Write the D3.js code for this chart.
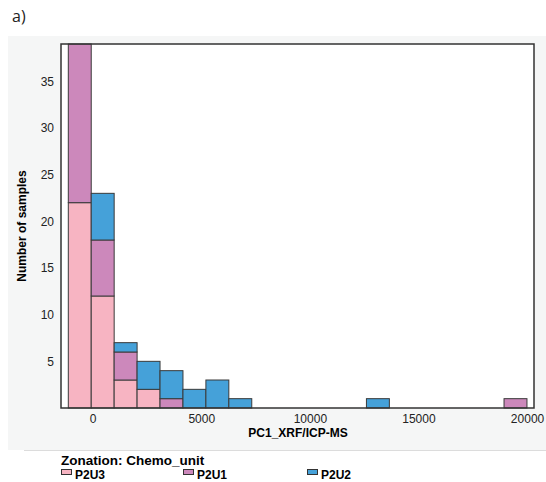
<!DOCTYPE html>
<html>
<head>
<meta charset="utf-8">
<script src="https://cdn.jsdelivr.net/npm/d3@7"></script>
<style>
  body { margin: 0; background: #fff; }
  svg { display: block; font-family: "Liberation Sans", Arial, sans-serif; }
</style>
</head>
<body>
<svg id="chart" width="546" height="482"></svg>
<script>
// histogram bins of PC1, stacked by chemo unit (bottom -> top)
var binStart = -1124;
var binWidth = 1056;
var units = ["P2U3", "P2U1", "P2U2"];
var unitColors = ["#f7b4c2", "#cc88bb", "#45a1d9"];
var countsP2U3 = [22, 12, 3, 2, 0, 0, 0, 0, 0, 0, 0, 0, 0, 0, 0, 0, 0, 0, 0, 0];
var countsP2U1 = [17, 6, 3, 0, 1, 0, 0, 0, 0, 0, 0, 0, 0, 0, 0, 0, 0, 0, 0, 1];
var countsP2U2 = [0, 5, 1, 3, 3, 2, 3, 1, 0, 0, 0, 0, 0, 1, 0, 0, 0, 0, 0, 0];
var xTicks = [0, 5000, 10000, 15000, 20000];
var yTicks = [5, 10, 15, 20, 25, 30, 35];

var svg = d3.select("#chart");
var plot = {left: 61, right: 534, top: 44, bottom: 408};

var x = d3.scaleLinear().domain([-1460, 20320]).range([plot.left, plot.right]);
var y = d3.scaleLinear().domain([0, 39]).range([plot.bottom, plot.top]);

// panel background
svg.append("rect")
	.attr("x", 8).attr("y", 36).attr("width", 538).attr("height", 414)
	.attr("fill", "#f5f6f6");
svg.append("line")
	.attr("x1", 24).attr("x2", 546).attr("y1", 450.5).attr("y2", 450.5)
	.attr("stroke", "#dcdcdc").attr("stroke-width", 1);

svg.append("text")
	.attr("x", 12).attr("y", 22)
	.style("font-family", "'Open Sans', sans-serif")
	.style("font-size", "16px")
	.attr("fill", "#222")
	.text("a)");

svg.append("rect")
	.attr("x", plot.left).attr("y", plot.top)
	.attr("width", plot.right - plot.left).attr("height", plot.bottom - plot.top)
	.attr("fill", "#fff");

// build stacked table
var rows = countsP2U3.map(function(d, i){
	return {i: i, P2U3: countsP2U3[i], P2U1: countsP2U1[i], P2U2: countsP2U2[i]};
});
var stack = d3.stack().keys(units)(rows);

var g = svg.append("g");
stack.forEach(function(layer, k){
	g.selectAll(null)
		.data(layer.filter(function(d){ return d[1] > d[0]; }))
		.enter().append("rect")
		.attr("x", function(d){ return x(binStart + d.data.i * binWidth); })
		.attr("width", function(d){ return x(binStart + (d.data.i + 1) * binWidth) - x(binStart + d.data.i * binWidth); })
		.attr("y", function(d){ return y(d[1]); })
		.attr("height", function(d){ return y(d[0]) - y(d[1]); })
		.attr("fill", unitColors[k])
		.attr("stroke", "#3a3a3a")
		.attr("stroke-width", 1);
});

// frame
svg.append("rect")
	.attr("x", plot.left).attr("y", plot.top)
	.attr("width", plot.right - plot.left).attr("height", plot.bottom - plot.top)
	.attr("fill", "none").attr("stroke", "#333").attr("stroke-width", 1.5);

// axes
var xAxis = svg.append("g")
	.attr("transform", "translate(0," + plot.bottom + ")")
	.call(d3.axisBottom(x).tickValues(xTicks).tickFormat(d3.format("d")).tickSize(0).tickPadding(6));
var yAxis = svg.append("g")
	.attr("transform", "translate(" + plot.left + ",0)")
	.call(d3.axisLeft(y).tickValues(yTicks).tickFormat(d3.format("d")).tickSize(0).tickPadding(7));
[xAxis, yAxis].forEach(function(a){
	a.select(".domain").remove();
	a.selectAll("text").attr("fill", "#222").style("font-size", "12px")
		.style("font-family", "'Liberation Sans', Arial, sans-serif");
});

svg.append("text")
	.attr("x", 298).attr("y", 437)
	.attr("text-anchor", "middle")
	.style("font-size", "12px").style("font-weight", "bold")
	.text("PC1_XRF/ICP-MS");

svg.append("text")
	.attr("transform", "translate(26,226) rotate(-90)")
	.attr("text-anchor", "middle")
	.style("font-size", "12px").style("font-weight", "bold")
	.text("Number of samples");

// legend
svg.append("text")
	.attr("x", 61).attr("y", 465)
	.style("font-size", "13.5px").style("font-weight", "bold")
	.text("Zonation: Chemo_unit");
var legendX = [61, 183, 307];
var leg = svg.selectAll(".leg").data(units).enter().append("g")
	.attr("class", "leg")
	.attr("transform", function(d, i){ return "translate(" + legendX[i] + ",0)"; });
leg.append("rect")
	.attr("x", 0.5).attr("y", 469.5).attr("width", 10).attr("height", 5)
	.attr("fill", function(d, i){ return unitColors[i]; })
	.attr("stroke", "#333").attr("stroke-width", 1);
leg.append("text")
	.attr("x", 14).attr("y", 479)
	.style("font-size", "12px").style("font-weight", "bold")
	.text(function(d){ return d; });
</script>
</body>
</html>
